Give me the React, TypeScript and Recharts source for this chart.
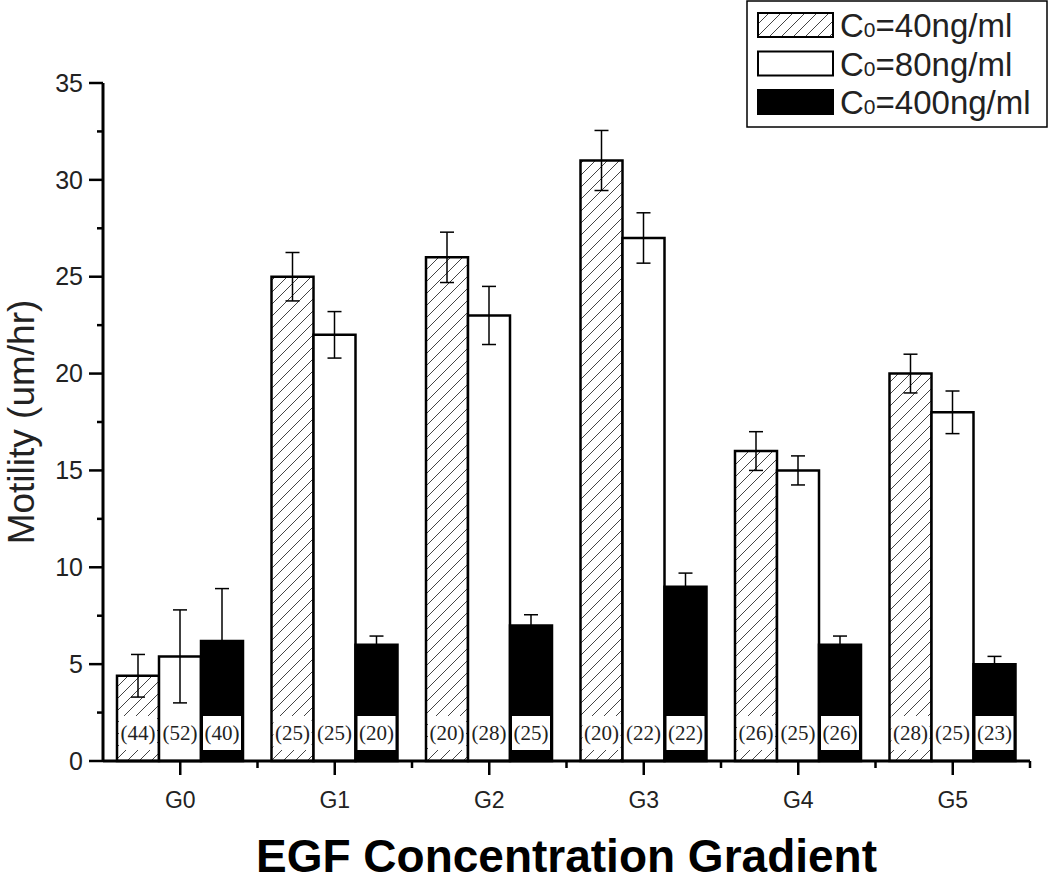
import { BarChart, Bar, XAxis, YAxis, ErrorBar, LabelList, Label } from 'recharts';

const groups = ['G0', 'G1', 'G2', 'G3', 'G4', 'G5'];
const seriesNames = ['40', '80', '400'];

const mean40 = [4.4, 25, 26, 31, 16, 20];
const err40 = [1.1, 1.25, 1.3, 1.55, 1.0, 1.0];
const n40 = [44, 25, 20, 20, 26, 28];

const mean80 = [5.4, 22, 23, 27, 15, 18];
const err80 = [2.4, 1.2, 1.5, 1.3, 0.75, 1.1];
const n80 = [52, 25, 28, 22, 25, 25];

const mean400 = [6.2, 6, 7, 9, 6, 5];
const err400 = [2.7, 0.45, 0.55, 0.7, 0.45, 0.4];
const n400 = [40, 20, 25, 22, 26, 23];

const yTicks = [0, 2.5, 5, 7.5, 10, 12.5, 15, 17.5, 20, 22.5, 25, 27.5, 30, 32.5, 35];

const data = groups.map((g, i) => ({
  g,
  a: mean40[i], ea: err40[i], na: n40[i],
  b: mean80[i], eb: err80[i], nb: n80[i],
  c: mean400[i], ec: err400[i], nc: n400[i],
}));

const SANS = '"Liberation Sans", Arial, sans-serif';
const SERIF = '"Liberation Serif", "Times New Roman", serif';

const YTick = ({ x, y, payload }: any) => {
  const major = payload.value % 5 === 0;
  return (
    <g>
      <line x1={x} x2={x - (major ? 14 : 6)} y1={y} y2={y} stroke="#000" strokeWidth={2.5} />
      {major && (
        <text x={x - 20} y={y} dy="0.35em" textAnchor="end" fontSize={25} fontFamily={SANS} fill="#222">
          {payload.value}
        </text>
      )}
    </g>
  );
};

const XTick = ({ x, y, payload }: any) => {
  const half = payload.offset ?? 77;
  return (
    <g>
      <line x1={x} x2={x} y1={y} y2={y + 14} stroke="#000" strokeWidth={2.5} />
      <line x1={x + half} x2={x + half} y1={y} y2={y + 7} stroke="#000" strokeWidth={2.5} />
      <text x={x} y={y + 39} dy="0.35em" textAnchor="middle" fontSize={23} fontFamily={SANS} fill="#222">
        {payload.value}
      </text>
    </g>
  );
};

const CountLabel = (props: any) => {
  const { x, y, width, height, value } = props;
  const bottom = y + height;
  return (
    <g>
      <rect x={x + 2} y={bottom - 45} width={width - 4} height={34} fill="#fff" />
      <text x={x + width / 2} y={bottom - 28} dy="0.35em" textAnchor="middle" fontSize={21} fontFamily={SERIF} fill="#222">
        ({value})
      </text>
    </g>
  );
};

const YTitle = ({ viewBox }: any) => {
  const cx = 21;
  const cy = viewBox.y + viewBox.height / 2;
  return (
    <text x={cx} y={cy} transform={`rotate(-90 ${cx} ${cy})`} textAnchor="middle" dy="0.35em" fontSize={37} fontFamily={SANS} fill="#222">
      Motility (um/hr)
    </text>
  );
};

const XTitle = ({ viewBox }: any) => (
  <text x={viewBox.x + viewBox.width / 2} y={856} textAnchor="middle" dy="0.35em" fontSize={46} fontWeight="bold" fontFamily={SANS} fill="#000">
    EGF Concentration Gradient
  </text>
);

const swatchFill = ['url(#hatchLegend)', '#fff', '#000'];

const LegendBox = () => (
  <svg width={302} height={129} style={{ position: 'absolute', left: 746, top: 0 }}>
    <defs>
      <pattern id="hatchLegend" patternUnits="userSpaceOnUse" width={12} height={12}>
        <rect width={12} height={12} fill="#fff" />
        <path d="M-3,3 l6,-6 M0,12 l12,-12 M9,15 l6,-6" stroke="#444" strokeWidth={1} />
      </pattern>
    </defs>
    <rect x={1} y={1} width={300} height={126} fill="#fff" stroke="#000" strokeWidth={1.5} />
    {seriesNames.map((s, i) => {
      const top = 13 + i * 38.5;
      return (
        <g key={s}>
          <rect x={12} y={top} width={75} height={24} fill={swatchFill[i]} stroke="#000" strokeWidth={2} />
          <text x={94} y={top + 24} fontSize={33} fontFamily={SANS} fill="#222">
            C<tspan fontSize={21}>0</tspan>={s}ng/ml
          </text>
        </g>
      );
    })}
  </svg>
);

export default function App() {
  return (
    <div style={{ position: 'absolute', left: 0, top: 0, width: 1050, height: 883, background: '#fff' }}>
      <BarChart
        width={1050}
        height={883}
        data={data}
        margin={{ top: 83, right: 20, left: 23, bottom: 0 }}
        barCategoryGap={14}
        barGap={0}
      >
        <defs>
          <pattern id="hatch" patternUnits="userSpaceOnUse" width={12} height={12}>
            <rect width={12} height={12} fill="#fff" />
            <path d="M-3,3 l6,-6 M0,12 l12,-12 M9,15 l6,-6" stroke="#444" strokeWidth={1} />
          </pattern>
        </defs>
        <XAxis
          dataKey="g"
          height={122}
          tickSize={0}
          tickMargin={0}
          tick={<XTick />}
          axisLine={{ stroke: '#000', strokeWidth: 3 }}
          interval={0}
        >
          <Label content={<XTitle />} />
        </XAxis>
        <YAxis
          width={80}
          domain={[0, 35]}
          ticks={yTicks}
          interval={0}
          tickSize={0}
          tickMargin={0}
          tick={<YTick />}
          axisLine={{ stroke: '#000', strokeWidth: 3 }}
        >
          <Label content={<YTitle />} />
        </YAxis>
        <Bar dataKey="a" fill="url(#hatch)" stroke="#000" strokeWidth={2.5} isAnimationActive={false}>
          <ErrorBar dataKey="ea" width={7} stroke="#000" strokeWidth={1.5} />
          <LabelList dataKey="na" content={<CountLabel />} />
        </Bar>
        <Bar dataKey="b" fill="#fff" stroke="#000" strokeWidth={2.5} isAnimationActive={false}>
          <ErrorBar dataKey="eb" width={7} stroke="#000" strokeWidth={1.5} />
          <LabelList dataKey="nb" content={<CountLabel />} />
        </Bar>
        <Bar dataKey="c" fill="#000" stroke="#000" strokeWidth={2.5} isAnimationActive={false}>
          <ErrorBar dataKey="ec" width={7} stroke="#000" strokeWidth={1.5} />
          <LabelList dataKey="nc" content={<CountLabel />} />
        </Bar>
      </BarChart>
      <LegendBox />
    </div>
  );
}
